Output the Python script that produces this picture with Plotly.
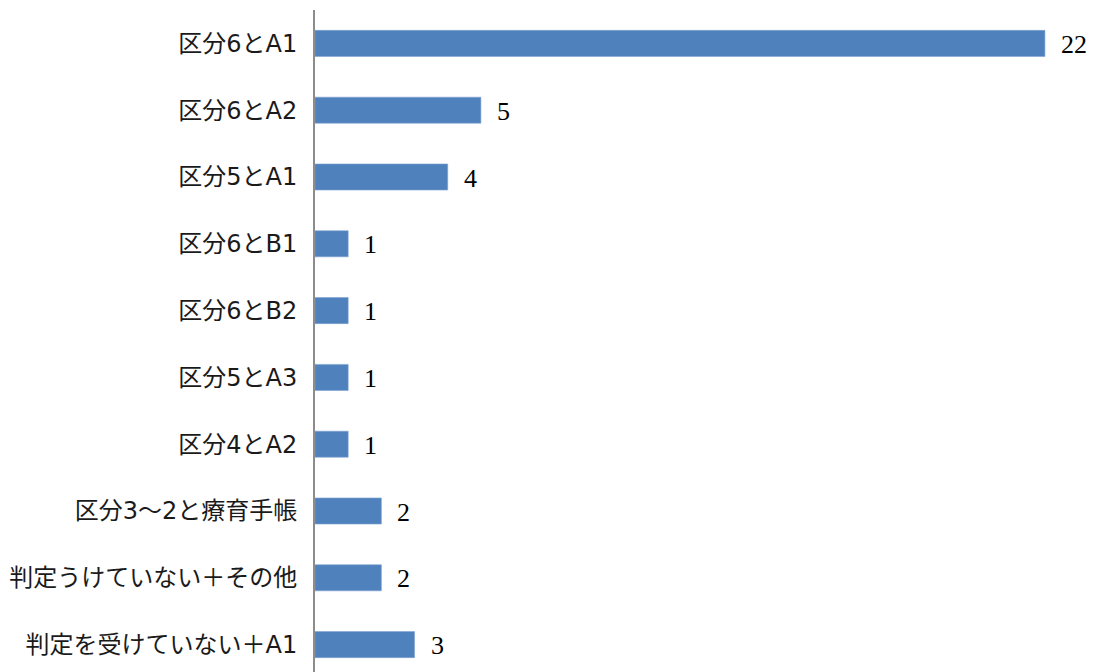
import plotly.graph_objects as go

categories = [
    "区分6とA1",
    "区分6とA2",
    "区分5とA1",
    "区分6とB1",
    "区分6とB2",
    "区分5とA3",
    "区分4とA2",
    "区分3～2と療育手帳",
    "判定うけていない＋その他",
    "判定を受けていない＋A1",
]
counts = [22, 5, 4, 1, 1, 1, 1, 2, 2, 3]

BAR_COLOR = "#4F81BD"

fig = go.Figure(
    go.Bar(
        x=counts,
        y=categories,
        orientation="h",
        width=0.39,
        marker=dict(color=BAR_COLOR, line=dict(color="#7FA3D1", width=0.6)),
        hoverinfo="x+y",
    )
)

# value labels placed just right of each bar end
for cat, val in zip(categories, counts):
    fig.add_annotation(
        x=val, y=cat, text=str(val), showarrow=False,
        xanchor="left", yanchor="middle", xshift=14, yshift=-1,
        font=dict(family="Liberation Serif", size=26, color="#000000"),
    )

fig.update_layout(
    width=1100,
    height=672,
    margin=dict(l=315, r=0, t=10, b=0),
    paper_bgcolor="white",
    plot_bgcolor="white",
    showlegend=False,
    xaxis=dict(
        range=[0, 23.66],
        visible=False,
        showgrid=False,
        zeroline=False,
    ),
    yaxis=dict(
        type="category",
        range=[9.41, -0.5],
        showgrid=False,
        zeroline=False,
        showline=True,
        linecolor="#8C8C8C",
        linewidth=2,
        ticks="",
        ticklabelstandoff=11,
        tickfont=dict(family="DejaVu Sans, Noto Sans CJK JP", size=24, color="#1a1a1a"),
    ),
)

fig.write_html("out.html")
